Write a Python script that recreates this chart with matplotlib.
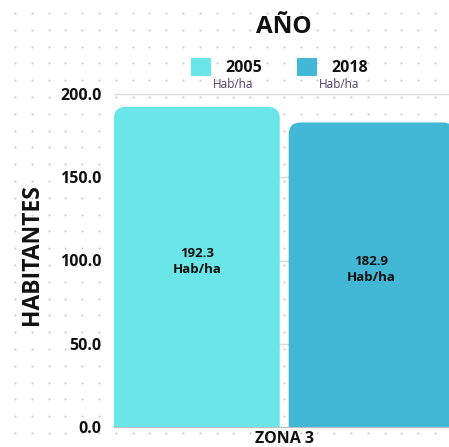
import matplotlib
matplotlib.use("Agg")
import matplotlib.pyplot as plt
from matplotlib.patches import FancyBboxPatch, Rectangle
import numpy as np

plt.rcParams['font.family'] = ['Open Sans', 'DejaVu Sans']

categories = ["ZONA 3"]
series_names = ["2005", "2018"]
series_units = ["Hab/ha", "Hab/ha"]
values = [192.3, 182.9]
colors = ["#6be6e8", "#42b8d6"]
yticks = [0, 50, 100, 150, 200]

W, H = 449, 447
fig = plt.figure(figsize=(W / 100, H / 100), dpi=100)

# dotted background
bg = fig.add_axes([0, 0, 1, 1], zorder=-10)
bg.set_xlim(0, W)
bg.set_ylim(H, 0)
bg.axis('off')
xs = np.arange(15, W, 16.8)
ys = np.arange(13, H, 16.8)
gx, gy = np.meshgrid(xs, ys)
bg.scatter(gx.ravel(), gy.ravel(), s=2.2, color="#c9c9c9", linewidths=0)

ax_left, ax_bottom_px, ax_top_px = 114, 427, 94
ax = fig.add_axes([ax_left / W, 1 - ax_bottom_px / H,
                   (459 - ax_left) / W, (ax_bottom_px - ax_top_px) / H])
ax.patch.set_alpha(0)
ax.set_ylim(0, 200)
ax.set_xlim(-0.474, 1.5)

width = 0.949
px_per_x = 175.0
px_per_y = 333 / 200
aspect = px_per_x / px_per_y
r = 12 / px_per_x
for i, (v, c) in enumerate(zip(values, colors)):
    x0 = i - width / 2
    p = FancyBboxPatch((x0, -20), width, v + 20,
                       boxstyle=f"round,pad=0,rounding_size={r}",
                       mutation_aspect=aspect, facecolor=c, edgecolor='none',
                       zorder=3)
    ax.add_patch(p)
    ax.text(i, v / 2 + 3, f"{v:.1f}\nHab/ha", ha='center', va='center',
            fontsize=9.5, fontweight='bold', color='#111111', zorder=4,
            linespacing=1.3)

ax.set_yticks(yticks)
ax.set_yticklabels([f"{t:.1f}" for t in yticks], fontsize=11.5, fontweight='bold',
                   color='#111111')
ax.tick_params(axis='y', length=0, pad=9)
ax.set_xticks([0.5])
ax.set_xticklabels(categories, fontsize=11.5, fontweight='bold', color='#111111')
ax.tick_params(axis='x', length=0, pad=3)
for t in yticks[1:]:
    ax.axhline(t, color='#d8d8d8', lw=1, zorder=1)
for s in ['top', 'right', 'left']:
    ax.spines[s].set_visible(False)
ax.spines['bottom'].set_color('#bdbdbd')
ax.spines['bottom'].set_zorder(5)

fig.text(32 / W, 1 - 255 / H, "HABITANTES", rotation=90, ha='center', va='center',
         fontsize=16.5, fontweight='bold', color='#111111')
fig.text(284 / W, 1 - 27 / H, "AÑO", ha='center', va='center',
         fontsize=17.5, fontweight='bold', color='#111111')

# legend
leg_x = [191, 297]
for i, (n, u, c) in enumerate(zip(series_names, series_units, colors)):
    x = leg_x[i]
    fig.patches.append(Rectangle((x / W, 1 - 76 / H), 20 / W, 18 / H,
                                 transform=fig.transFigure, facecolor=c,
                                 edgecolor='none'))
    fig.text((x + 34) / W, 1 - 68 / H, n, ha='left', va='center', fontsize=11.5,
             fontweight='bold', color='#111111')
    fig.text((x + 22) / W, 1 - 84 / H, u, ha='left', va='center', fontsize=8.5,
             color='#4a3f66')

fig.savefig("out.png", dpi=100)
